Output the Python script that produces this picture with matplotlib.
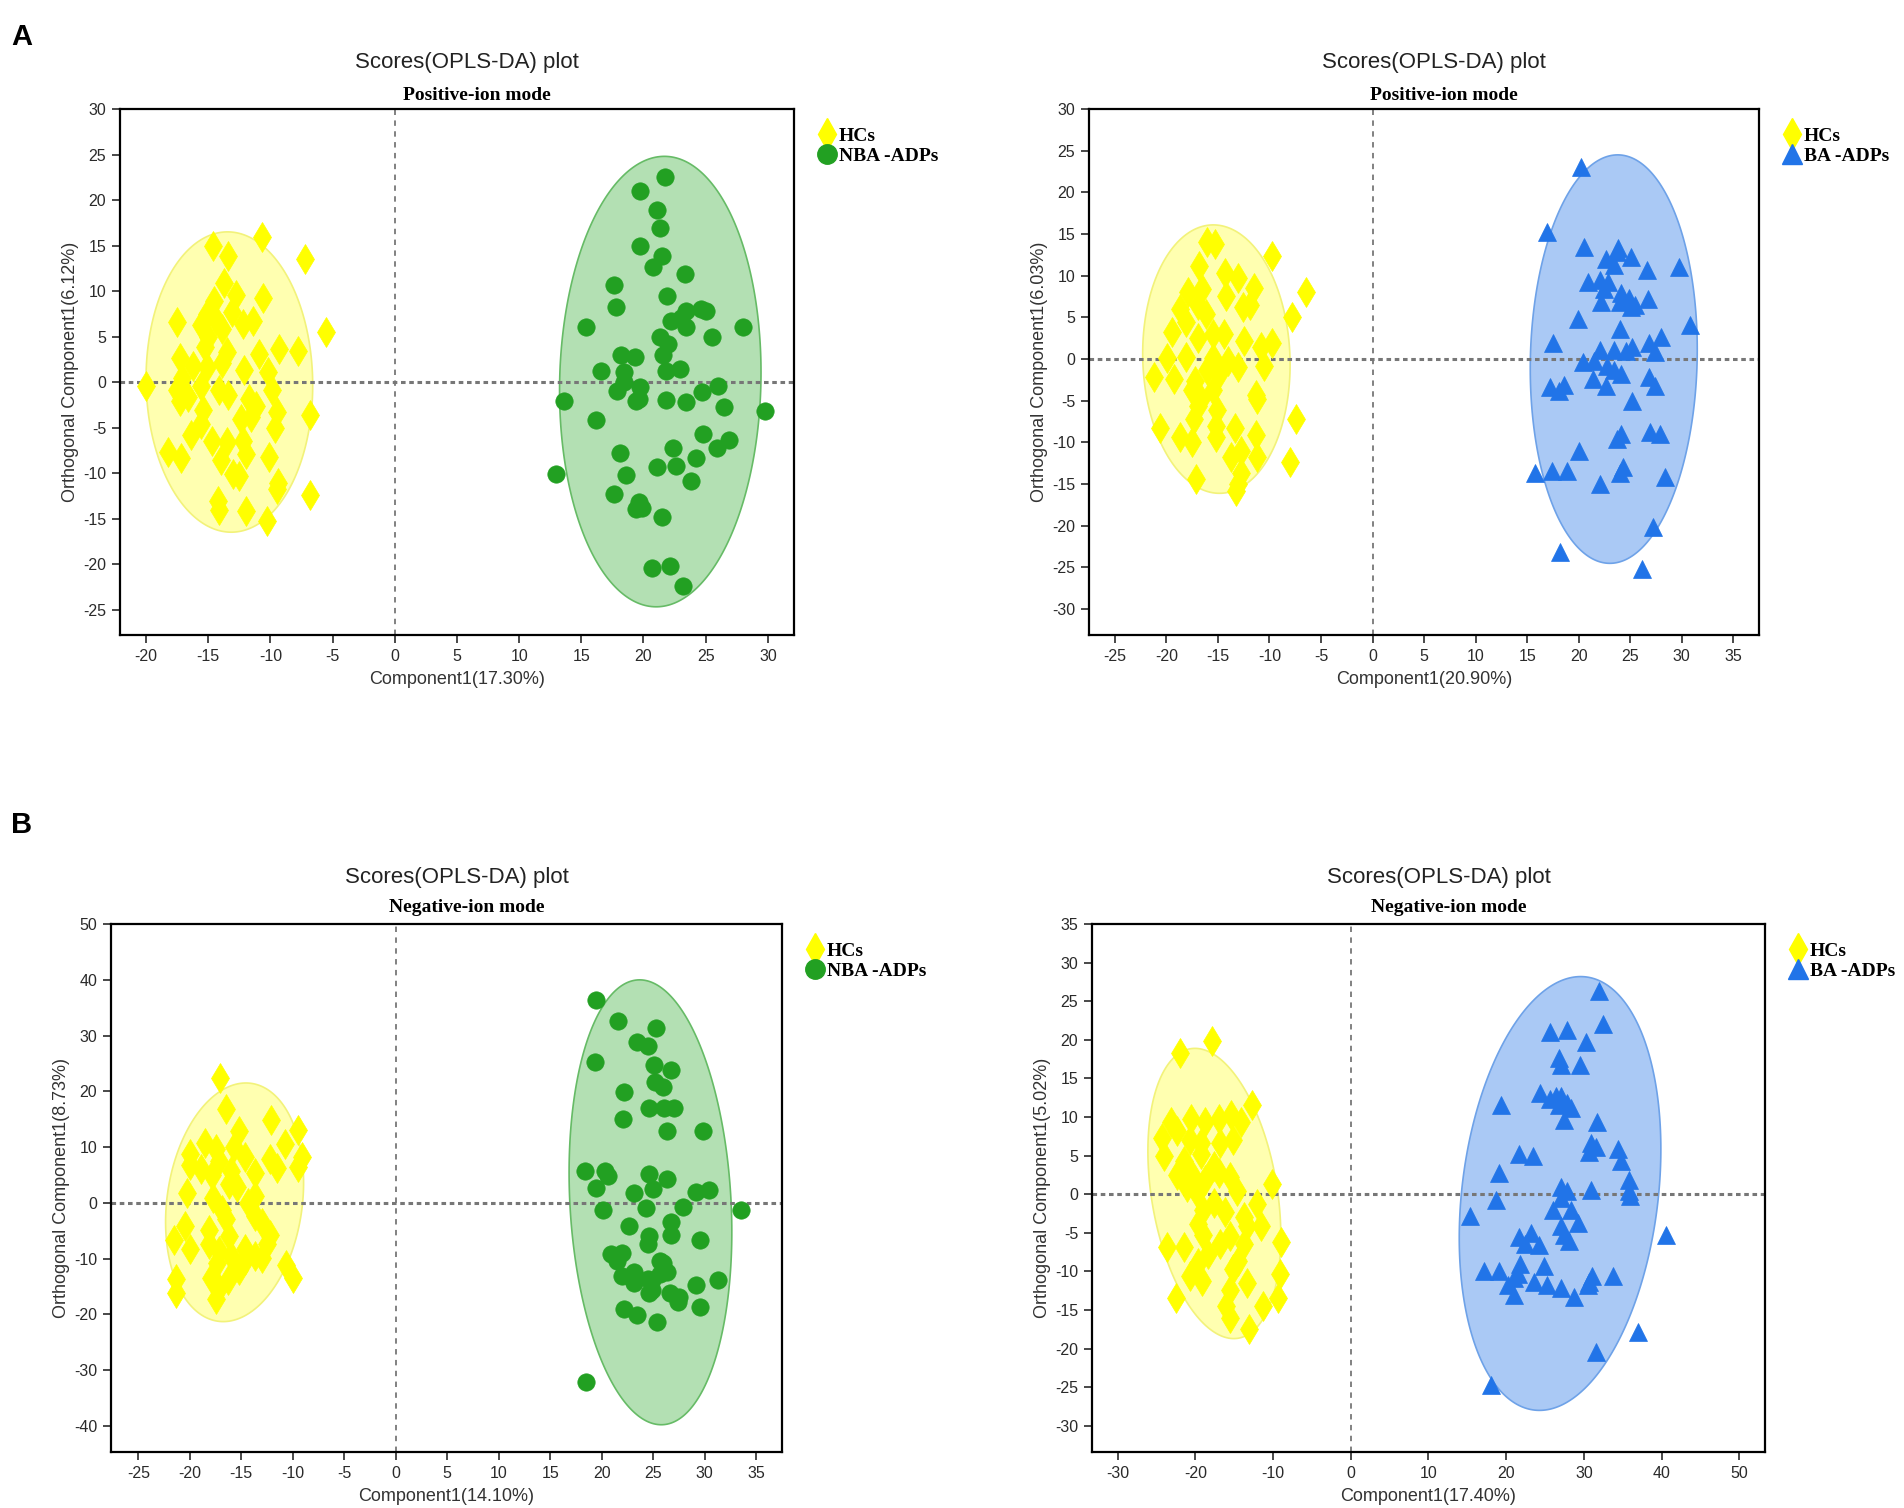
import numpy as np
import matplotlib
matplotlib.use("Agg")
import matplotlib.pyplot as plt
from matplotlib.lines import Line2D

plt.rcParams['font.family'] = ['Liberation Sans', 'DejaVu Sans']
plt.rcParams['axes.unicode_minus'] = False

# ---- data ----
pos1_hc = [(-10.7,15.9),(-14.6,15.0),(-13.4,13.9),(-7.2,13.5),(-13.7,10.9),(-12.8,9.6),(-10.6,9.2),
           (-14.5,8.9),(-15.1,7.5),(-17.5,6.6),(-13.1,7.7),(-12.2,6.4),(-11.4,6.7),(-15.6,6.3),(-14.4,6.8),
           (-5.5,5.5),(-15.0,5.0),(-13.9,5.8),(-17.3,2.6),(-13.5,3.3),(-15.3,3.8),(-10.9,3.1),(-9.3,3.6),
           (-7.8,3.4),(-16.2,1.8),(-15.1,1.6),(-13.9,2.1),(-12.1,1.3),(-10.2,1.1),(-17.1,0.4),(-20.0,-0.4),
           (-17.5,-0.9),(-15.6,-0.4),(-14.1,-0.9),(-9.9,-0.9),(-16.6,-1.6),(-13.4,-1.4),(-17.3,-2.1),
           (-11.7,-1.9),(-11.2,-2.6),(-15.4,-3.1),(-9.5,-3.3),(-6.8,-3.6),(-12.4,-4.1),(-15.6,-4.6),
           (-11.6,-3.8),(-16.4,-5.8),(-9.6,-5.1),(-14.7,-6.5),(-13.5,-6.6),(-12.2,-6.5),(-18.2,-7.7),
           (-17.2,-8.4),(-14.0,-8.6),(-10.1,-8.2),(-12.0,-7.9),(-13.0,-10.1),(-12.5,-10.3),(-9.4,-11.1),
           (-9.5,-11.7),(-6.8,-12.4),(-14.2,-13.1),(-14.1,-14.1),(-12.0,-14.2),(-10.3,-15.3)]
pos1_nba = [(21.7,22.5),(19.7,21.0),(21.1,18.9),(21.3,16.9),(19.7,14.9),(21.5,13.8),(20.8,12.6),
            (23.3,11.9),(17.6,10.7),(21.9,9.4),(17.8,8.2),(24.6,8.0),(25.0,7.8),(23.4,7.8),(23.0,7.0),
            (22.2,6.7),(28.0,6.1),(15.4,6.0),(23.4,6.1),(21.3,5.0),(25.5,4.9),(22.0,4.2),(18.2,3.0),
            (19.3,2.8),(21.6,3.0),(16.6,1.2),(18.4,1.1),(21.8,1.2),(22.9,1.4),(18.4,0.0),(19.7,-0.5),
            (26.0,-0.4),(17.9,-1.0),(24.7,-1.1),(13.6,-2.1),(19.4,-2.1),(21.8,-2.0),(23.4,-2.2),
            (19.6,-1.9),(26.5,-2.7),(29.8,-3.2),(16.2,-4.2),(24.8,-5.7),(25.9,-7.3),(26.9,-6.4),
            (22.4,-7.3),(18.1,-7.8),(24.2,-8.4),(13.0,-10.1),(21.1,-9.3),(22.6,-9.2),(18.6,-10.2),
            (23.8,-10.9),(17.6,-12.3),(19.6,-13.2),(19.4,-14.0),(19.9,-13.8),(21.5,-14.8),(20.7,-20.4),
            (22.1,-20.2),(23.2,-22.4)]
pos2_hc = [(-16.1,14.0),(-15.3,13.8),(-9.8,12.4),(-16.8,11.2),(-14.3,10.3),(-13.1,9.7),(-17.9,8.1),
           (-16.5,8.4),(-11.5,8.5),(-6.5,8.1),(-14.2,7.6),(-12.6,6.2),(-11.9,6.5),(-18.7,6.0),(-16.9,6.5),
           (-16.2,5.4),(-7.8,5.1),(-18.1,4.4),(-19.5,3.3),(-15.5,3.0),(-14.4,3.0),(-16.9,2.5),(-12.5,2.2),
           (-9.8,1.9),(-10.8,1.4),(-19.9,0.1),(-18.1,0.3),(-15.5,0.1),(-14.0,-0.2),(-16.1,-1.3),
           (-13.1,-1.0),(-10.5,-0.8),(-21.2,-2.1),(-19.3,-2.4),(-17.2,-2.6),(-14.9,-1.8),(-17.5,-3.7),
           (-16.6,-4.8),(-11.3,-4.3),(-15.5,-3.7),(-11.2,-4.8),(-16.9,-5.6),(-15.1,-6.1),(-7.4,-7.2),
           (-17.3,-7.2),(-20.6,-8.3),(-15.2,-8.0),(-13.3,-8.3),(-11.3,-9.1),(-18.7,-9.4),(-17.5,-9.9),
           (-15.2,-9.4),(-12.8,-11.0),(-13.7,-11.8),(-11.2,-11.8),(-8.0,-12.4),(-12.8,-13.7),
           (-17.1,-14.4),(-13.2,-15.8),(-13.1,-15.0)]
pos2_ba = [(20.2,23.0),(16.9,15.2),(20.5,13.4),(23.8,13.3),(23.7,12.8),(22.6,12.0),(25.1,12.3),
           (23.4,11.3),(26.6,10.7),(29.7,11.0),(20.9,9.3),(22.1,9.5),(22.8,9.2),(22.5,8.4),(24.1,7.9),
           (24.9,7.3),(24.0,6.8),(25.5,6.5),(26.7,7.2),(22.2,6.9),(25.1,6.2),(19.9,4.8),(30.8,4.1),
           (24.0,3.6),(28.0,2.7),(17.5,1.9),(26.8,1.9),(22.1,1.1),(23.4,1.1),(24.6,1.0),(25.2,1.4),
           (27.4,0.9),(20.4,-0.4),(21.5,-0.2),(22.7,-0.8),(23.4,-1.3),(24.1,-1.8),(26.8,-2.1),
           (21.4,-2.4),(17.2,-3.4),(18.6,-3.1),(18.1,-3.8),(22.6,-3.2),(27.4,-3.2),(25.2,-5.0),
           (24.1,-9.0),(23.7,-9.6),(26.9,-8.8),(27.9,-9.0),(20.0,-11.0),(24.3,-12.9),(24.0,-13.7),
           (15.8,-13.7),(17.4,-13.4),(18.9,-13.4),(22.1,-15.0),(28.4,-14.2),(27.2,-20.1),(18.2,-23.1),
           (26.1,-25.2)]
neg1_hc = [(-17.1,22.4),(-16.5,16.8),(-12.1,14.9),(-9.5,13.0),(-15.2,12.9),(-18.5,10.8),(-10.8,10.6),
           (-15.7,10.0),(-17.5,9.6),(-20.0,8.7),(-9.1,8.3),(-14.6,8.3),(-12.2,7.9),(-17.2,7.5),(-9.5,6.4),
           (-20.0,6.7),(-18.9,6.1),(-11.5,6.3),(-16.0,5.8),(-13.7,5.4),(-17.8,5.0),(-16.2,3.4),(-15.4,2.9),
           (-20.3,1.7),(-13.7,1.3),(-17.7,0.9),(-14.3,0.0),(-16.9,-1.2),(-13.7,-2.4),(-13.0,-3.7),
           (-20.5,-4.1),(-16.5,-2.9),(-18.1,-4.9),(-12.2,-5.8),(-21.5,-6.6),(-16.2,-6.0),(-18.1,-7.4),
           (-12.5,-7.4),(-20.0,-8.2),(-14.6,-8.2),(-17.2,-8.6),(-16.0,-9.5),(-13.0,-9.9),(-14.6,-10.3),
           (-13.7,-9.5),(-17.4,-10.7),(-10.7,-11.1),(-15.2,-12.0),(-10.0,-13.4),(-17.9,-13.4),
           (-21.3,-13.6),(-16.3,-13.9),(-17.2,-15.3),(-21.3,-16.1),(-17.5,-17.2)]
neg1_nba = [(19.4,36.3),(21.6,32.7),(25.3,31.3),(23.4,28.8),(24.5,28.1),(19.3,25.2),(25.1,24.7),
            (26.7,23.8),(25.2,21.6),(25.9,20.7),(22.2,19.9),(24.6,17.0),(26.0,17.0),(27.0,17.0),
            (22.1,15.1),(26.3,12.9),(29.8,12.9),(18.4,5.8),(20.3,5.8),(20.6,4.8),(24.6,5.2),(26.3,4.2),
            (19.4,2.7),(23.1,1.7),(25.0,2.5),(29.2,1.9),(30.4,2.3),(20.1,-1.2),(24.3,-1.0),(27.9,-0.7),
            (33.5,-1.2),(22.6,-4.2),(26.7,-3.4),(24.6,-6.0),(26.7,-5.8),(29.5,-6.6),(24.5,-7.4),
            (20.9,-9.1),(22.0,-9.0),(21.5,-10.5),(25.7,-10.5),(25.9,-10.8),(23.1,-12.4),(22.0,-13.2),
            (23.0,-13.6),(26.3,-12.4),(25.7,-12.8),(24.5,-13.6),(24.9,-13.9),(31.3,-13.9),(23.1,-14.4),
            (29.2,-14.7),(24.9,-15.7),(26.6,-16.1),(24.6,-16.1),(27.5,-16.8),(27.4,-17.7),(22.2,-19.0),
            (29.5,-18.6),(23.4,-20.2),(25.4,-21.3),(18.5,-32.2)]
neg2_hc = [(-17.9,19.8),(-22.0,18.3),(-12.7,11.5),(-23.1,9.4),(-20.5,9.7),(-18.8,9.4),(-17.0,9.7),
           (-15.4,10.3),(-14.1,9.4),(-22.3,8.2),(-24.3,7.3),(-20.7,7.0),(-19.3,6.7),(-16.8,6.7),
           (-15.1,7.0),(-24.0,4.9),(-21.5,4.3),(-19.3,5.2),(-17.6,3.7),(-17.0,2.8),(-22.3,2.5),(-20.4,2.5),
           (-18.8,1.9),(-15.6,2.2),(-10.1,1.3),(-21.1,0.9),(-19.8,0.1),(-14.6,0.4),(-17.6,-1.1),
           (-12.1,-1.3),(-19.0,-2.0),(-16.2,-2.3),(-13.7,-2.9),(-19.7,-3.8),(-13.3,-4.1),(-11.5,-4.1),
           (-19.0,-5.3),(-15.6,-5.4),(-9.0,-6.2),(-23.7,-6.8),(-21.5,-6.8),(-16.8,-6.5),(-13.7,-6.5),
           (-18.4,-7.7),(-14.5,-8.6),(-19.6,-8.9),(-15.2,-9.7),(-20.7,-10.6),(-19.2,-11.2),(-9.1,-10.3),
           (-13.3,-11.5),(-15.6,-12.4),(-22.5,-13.5),(-9.4,-13.5),(-16.0,-14.5),(-11.3,-14.5),
           (-15.6,-16.0),(-13.1,-17.5)]
neg2_ba = [(31.9,26.3),(32.5,22.0),(25.7,21.0),(27.8,21.3),(30.3,19.7),(26.8,17.7),(27.0,16.7),
           (29.5,16.7),(24.4,13.1),(25.6,12.4),(26.4,12.7),(27.1,12.7),(27.8,11.8),(26.8,11.5),
           (28.3,11.2),(19.3,11.6),(31.7,9.4),(27.5,9.6),(30.9,6.7),(31.5,6.1),(30.7,5.5),(34.4,5.9),
           (21.7,5.2),(23.4,4.9),(34.8,4.3),(19.1,2.8),(35.8,1.9),(27.1,0.9),(27.8,0.4),(30.9,0.5),
           (35.8,0.4),(35.9,-0.2),(27.1,-0.5),(18.7,-0.8),(26.0,-2.0),(28.3,-2.1),(29.3,-3.7),
           (15.4,-2.8),(27.1,-4.1),(23.2,-5.0),(27.4,-5.3),(21.7,-5.6),(28.1,-6.0),(22.4,-6.5),
           (24.2,-6.6),(40.6,-5.3),(17.2,-10.0),(19.1,-10.0),(21.8,-9.1),(21.5,-10.3),(24.8,-9.3),
           (31.1,-10.6),(33.8,-10.6),(20.2,-11.8),(21.0,-10.9),(23.6,-11.4),(25.2,-11.7),(27.0,-12.1),
           (30.7,-11.4),(30.5,-11.8),(21.0,-13.0),(28.7,-13.3),(37.0,-17.9),(31.5,-20.4),(18.1,-24.7)]

# confidence ellipses: centre x, centre y, half width, half height, x shift of the top point
ell_pos1 = [(-13.3, 0.0, 6.7, 16.5, -0.15), (21.35, 0.05, 8.1, 24.75, 0.33)]
ell_pos2 = [(-15.15, 0.0, 7.15, 16.1, -0.3), (23.4, 0.0, 8.1, 24.5, 0.38)]
ell_neg1 = [(-15.65, 0.1, 6.7, 21.4, 1.1), (24.73, 0.1, 7.9, 39.9, -1.05)]
ell_neg2 = [(-17.55, 0.1, 8.55, 18.8, -2.5), (26.93, 0.1, 12.97, 28.1, 2.65)]

x_pct = ["17.30%", "20.90%", "14.10%", "17.40%"]
y_pct = ["6.12%", "6.03%", "8.73%", "5.02%"]
modes = ["Positive-ion mode", "Positive-ion mode", "Negative-ion mode", "Negative-ion mode"]
groups = ["NBA -ADPs", "BA -ADPs", "NBA -ADPs", "BA -ADPs"]

YEL = "#ffff00"
GRN = "#22a022"
BLU = "#2174e8"
fill_c = {"y": ("#ffffb0", "#f2f27a"), "g": ("#b3e0b3", "#66bb66"), "b": ("#aac9f5", "#6ea2e8")}

fig = plt.figure(figsize=(19.04, 15.08), dpi=100)

rects = [(0.0630, 0.5789, 0.3540, 0.3488), (0.5720, 0.5789, 0.3519, 0.3488),
         (0.0583, 0.0371, 0.3524, 0.3501), (0.5735, 0.0371, 0.3535, 0.3501)]
limits = [((-22.1, 32.1), (-27.8, 30)), ((-27.5, 37.5), (-33.1, 30)),
          ((-27.65, 37.5), (-44.7, 50)), ((-33.3, 53.3), (-33.4, 35))]
xticks = [np.arange(-20, 31, 5), np.arange(-25, 36, 5), np.arange(-25, 36, 5), np.arange(-30, 51, 10)]
yticks = [np.arange(-25, 31, 5), np.arange(-30, 31, 5), np.arange(-40, 51, 10), np.arange(-30, 36, 5)]
hc_sets = [pos1_hc, pos2_hc, neg1_hc, neg2_hc]
pt_sets = [pos1_nba, pos2_ba, neg1_nba, neg2_ba]
ell_sets = [ell_pos1, ell_pos2, ell_neg1, ell_neg2]


def draw_ellipse(ax, e, key):
    cx, cy, w, ry, d = e
    rx = np.sqrt(w ** 2 - d ** 2)
    t = np.linspace(0, 2 * np.pi, 300)
    ex = cx + rx * np.cos(t) + d * np.sin(t)
    ey = cy + ry * np.sin(t)
    ax.fill(ex, ey, facecolor=fill_c[key][0], edgecolor=fill_c[key][1], lw=1.2, zorder=1)


for i in range(4):
    ax = fig.add_axes(rects[i])
    is_ba = (i % 2 == 1)
    col = BLU if is_ba else GRN
    mk = "^" if is_ba else "o"
    ms = 13.5 if is_ba else 12.5

    draw_ellipse(ax, ell_sets[i][0], "y")
    draw_ellipse(ax, ell_sets[i][1], "b" if is_ba else "g")

    ax.axvline(0, color="#777777", lw=1.3, ls=(0, (3, 3)), zorder=2)
    ax.axhline(0, color="#777777", lw=2.2, ls=(0, (1.5, 1.2)), zorder=2)

    hc = np.array(hc_sets[i])
    pts = np.array(pt_sets[i])
    ax.plot(hc[:, 0], hc[:, 1], ls="none", marker="d", ms=15, mfc=YEL, mec=YEL, mew=0.5, zorder=3)
    ax.plot(pts[:, 0], pts[:, 1], ls="none", marker=mk, ms=ms, mfc=col, mec=col, mew=0.5, zorder=3)

    ax.set_xlim(limits[i][0])
    ax.set_ylim(limits[i][1])
    ax.set_xticks(xticks[i])
    ax.set_yticks(yticks[i])
    ax.tick_params(direction="out", length=6, width=1.2, labelsize=11.5, colors="#2a2a2a",
                   top=False, right=False, pad=4)
    for s in ax.spines.values():
        s.set_linewidth(1.6)
        s.set_color("black")

    ax.set_xlabel("Component1(" + x_pct[i] + ")", fontsize=13, color="#333333", labelpad=5)
    ax.set_ylabel("Orthogonal Component1(" + y_pct[i] + ")", fontsize=13, color="#333333", labelpad=3)

    hpx = rects[i][3] * 1508
    off = 14 if i < 2 else 17
    ax.text(0.515, 1.0 + 36 / hpx, "Scores(OPLS-DA) plot", transform=ax.transAxes,
            ha="center", va="bottom", fontsize=16, color="#222222")
    ax.text(0.53, 1.0 + off / hpx, modes[i], transform=ax.transAxes,
            ha="center", va="center", fontsize=14, fontweight="bold",
            family=["Liberation Serif", "DejaVu Serif"], color="black")

    handles = [Line2D([], [], ls="none", marker="d", ms=16, mfc=YEL, mec=YEL),
               Line2D([], [], ls="none", marker=mk, ms=14, mfc=col, mec=col)]
    ax.legend(handles, ["HCs", groups[i]], loc="upper left", bbox_to_anchor=(1.025, 0.98),
              frameon=False, handlelength=0.9, handletextpad=0.15, labelspacing=0.12,
              borderaxespad=0, prop={"family": ["Liberation Serif", "DejaVu Serif"],
                                     "weight": "bold", "size": 14})

fig.text(0.006, 0.985, "A", fontsize=21, fontweight="bold", va="top", ha="left")
fig.text(0.006, 0.462, "B", fontsize=21, fontweight="bold", va="top", ha="left")

fig.savefig("out.png", dpi=100)
